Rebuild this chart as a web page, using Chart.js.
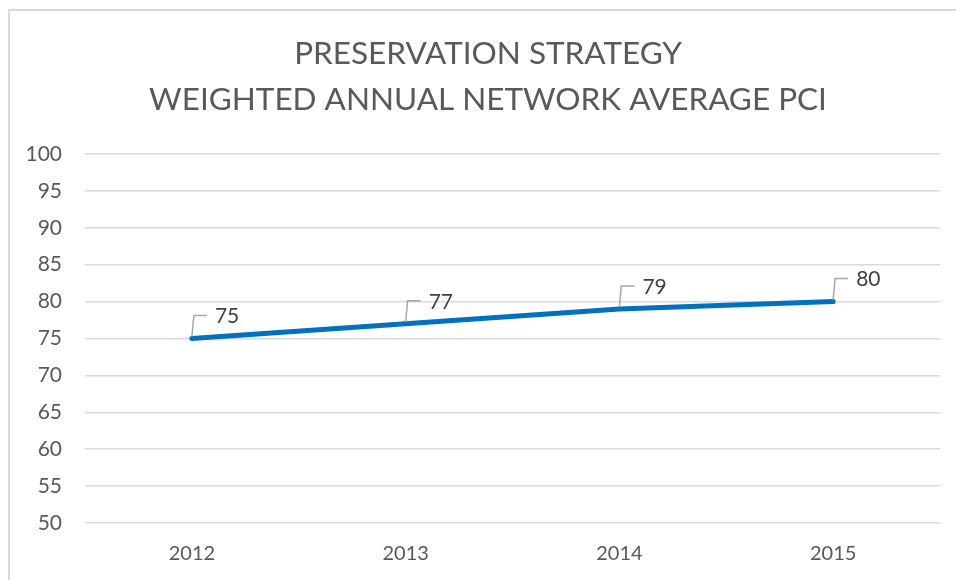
<!DOCTYPE html>
<html lang="en">
<head>
    <meta charset="UTF-8">
    <title>Preservation Strategy</title>
    <script src="https://cdn.jsdelivr.net/npm/chart.js@4.4.1/dist/chart.umd.min.js"></script>
    <style>
        body { margin: 0; background: #fff; overflow: hidden; }
        #wrap { position: relative; width: 956px; height: 580px; }
        #frame { position: absolute; left: 8px; top: 9px; width: 1000px; height: 1000px; border: 2px solid #d9d9d9; }
        #chart { position: absolute; left: 0; top: 0; }
    </style>
</head>
<body>
    <div id="wrap">
        <div id="frame"></div>
        <canvas id="chart" width="956" height="580"></canvas>
    </div>

    <script>
        const years = ['2012', '2013', '2014', '2015']
        const pciValues = [75, 77, 79, 80]
        const titleLines = ['PRESERVATION STRATEGY', 'WEIGHTED ANNUAL NETWORK AVERAGE PCI']
        const yMin = 50
        const yMax = 100
        const yStep = 5

        const FONT = 'Lato, "Open Sans", sans-serif'

        // title drawn by hand, the original is centred on the whole (wider) frame
        const bigTitle = {
            id: 'bigTitle',
            afterDraw(chart) {
                const ctx = chart.ctx
                ctx.save()
                ctx.fillStyle = '#595959'
                ctx.font = '31.5px ' + FONT
                ctx.textAlign = 'center'
                ctx.textBaseline = 'middle'
                titleLines.forEach((line, i) => {
                    ctx.fillText(line, 488, 54 + i * 46)
                })
                ctx.restore()
            }
        }

        // callout labels with the little leader line, like excel does
        const calloutLabels = {
            id: 'calloutLabels',
            afterDatasetsDraw(chart) {
                const ctx = chart.ctx
                const meta = chart.getDatasetMeta(0)
                ctx.save()
                meta.data.forEach((pt, i) => {
                    const x = pt.x, y = pt.y
                    ctx.strokeStyle = '#a6a6a6'
                    ctx.lineWidth = 1.5
                    ctx.beginPath()
                    ctx.moveTo(x, y - 2)
                    ctx.lineTo(x + 2, y - 23)
                    ctx.lineTo(x + 15, y - 23)
                    ctx.stroke()
                    ctx.fillStyle = '#404040'
                    ctx.font = '21px ' + FONT
                    ctx.textAlign = 'left'
                    ctx.textBaseline = 'middle'
                    ctx.fillText(String(pciValues[i]), x + 23, y - 22)
                })
                ctx.restore()
            }
        }

        const ctx = document.getElementById('chart').getContext('2d')
        const myChart = new Chart(ctx, {
            type: 'line',
            data: {
                labels: years,
                datasets: [{
                    data: pciValues,
                    borderColor: '#0070c0',
                    borderWidth: 5,
                    borderCapStyle: 'round',
                    pointRadius: 0,
                    tension: 0,
                    fill: false
                }]
            },
            options: {
                responsive: false,
                animation: false,
                layout: { padding: { left: 0, right: 16, top: 154, bottom: 0 } },
                plugins: {
                    legend: { display: false },
                    tooltip: { enabled: false },
                    title: { display: false }
                },
                scales: {
                    x: {
                        offset: true,
                        grid: { display: false, drawTicks: false },
                        border: { display: false },
                        ticks: { color: '#595959', font: { family: FONT, size: 20 }, padding: 19 },
                        afterFit(scale) { scale.height = 57 }
                    },
                    y: {
                        min: yMin,
                        max: yMax,
                        ticks: { stepSize: yStep, color: '#595959', font: { family: FONT, size: 21 }, padding: 23 },
                        grid: { color: '#d9d9d9', lineWidth: 1.5, drawTicks: false },
                        border: { display: false },
                        afterFit(scale) { scale.width = 85 }
                    }
                }
            },
            plugins: [calloutLabels, bigTitle]
        })
    </script>
</body>
</html>
